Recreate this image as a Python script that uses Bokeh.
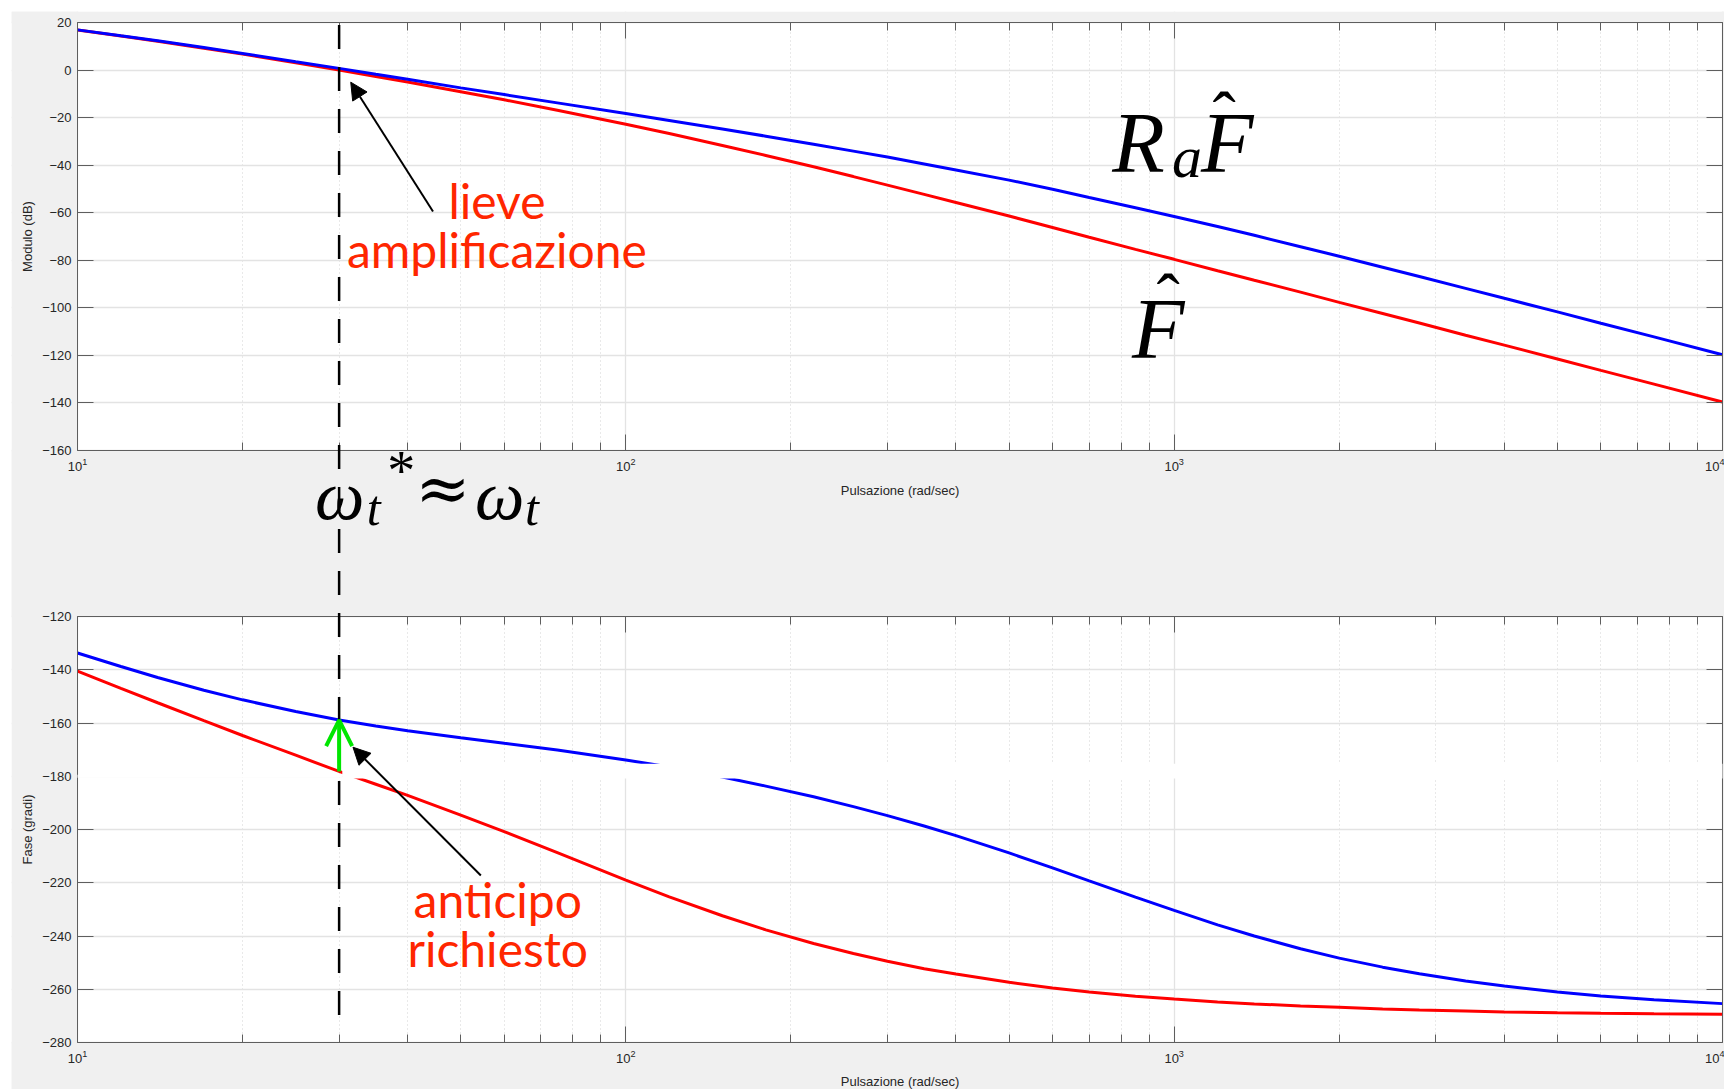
import math
from bokeh.plotting import figure
from bokeh.models import (LogAxis, LinearAxis, FixedTicker, Label, Arrow, Grid,
                          NormalHead, OpenHead, BoxAnnotation, Range1d)
from bokeh.layouts import column
from bokeh.embed import file_html
from bokeh.resources import INLINE

# ---------------- data ----------------
freq = [10, 12, 14, 17, 20, 25, 30, 35, 40, 50, 60, 75, 100, 120, 150, 180, 220,
        260, 300, 350, 400, 500, 600, 700, 850, 1000, 1200, 1400, 1700, 2000,
        2400, 2800, 3400, 4000, 5000, 6000, 7500, 10000]
mag_F = [16.8, 14.3, 12.1, 9.2, 6.7, 3.1, 0.0, -2.7, -5.0, -9.1, -12.5, -16.9,
         -22.8, -26.7, -31.7, -35.9, -40.7, -44.8, -48.4, -52.3, -55.7, -61.4,
         -66.2, -70.3, -75.4, -79.6, -84.4, -88.4, -93.4, -97.7, -102.4, -106.4,
         -111.5, -115.7, -121.5, -126.3, -132.1, -139.6]
mag_RaF = [16.9, 14.4, 12.3, 9.5, 7.0, 3.5, 0.7, -1.8, -3.9, -7.5, -10.3, -13.8,
           -18.3, -21.2, -24.8, -27.8, -31.2, -34.1, -36.6, -39.5, -42.0, -46.3,
           -50.1, -53.6, -57.9, -61.6, -65.8, -69.5, -74.3, -78.3, -82.9, -86.8,
           -91.8, -96.0, -101.7, -106.5, -112.2, -119.7]
phase_F = [-140.5, -147.0, -152.4, -159.1, -164.7, -172.1, -178.2, -183.0, -187.2,
           -194.6, -200.8, -208.7, -219.0, -225.3, -232.4, -237.7, -242.8, -246.6,
           -249.5, -252.3, -254.3, -257.4, -259.5, -261.0, -262.6, -263.7, -264.8,
           -265.5, -266.3, -266.8, -267.4, -267.8, -268.2, -268.5, -268.8, -269.0,
           -269.2, -269.4]
phase_RaF = [-133.7, -138.8, -142.9, -147.7, -151.3, -155.7, -158.9, -161.1, -162.9,
             -165.5, -167.6, -170.1, -173.9, -176.5, -180.3, -183.7, -187.7, -191.4,
             -194.8, -198.7, -202.3, -208.8, -214.4, -219.3, -225.4, -230.4, -235.8,
             -240.0, -244.8, -248.3, -251.7, -254.2, -256.9, -258.8, -261.0, -262.5,
             -263.9, -265.4]

x_ticks = [10, 100, 1000, 10000]
x_minor = [m * d for d in (10, 100, 1000) for m in range(2, 10)]
mag_ticks = list(range(-160, 21, 20))
phase_ticks = list(range(-280, -119, 20))
w_t = 30  # crossover frequency marked by the dashed line

# ---------------- layout (page pixels) ----------------
CX0, CY0, CW, CH = 11, 11, 1713, 1078          # canvas = plot frame
PX_L, PX_R = 77, 1722                          # both panels, x
MAG_T, MAG_B = 22, 450                         # magnitude panel, y
PH_T, PH_B = 616, 1042                         # phase panel, y
DEC = (PX_R - PX_L) / 3
MAG_PX = (MAG_B - MAG_T) / 180
PH_PX = (PH_B - PH_T) / 160
X_LOW = 10 ** (1 - (PX_L - CX0) / DEC)
X_HIGH = 10 ** (4 + (CX0 + CW - PX_R) / DEC)
MAG_TOP = 20 + (MAG_T - CY0) / MAG_PX
MAG_BOT = 20 - (CY0 + CH - MAG_T) / MAG_PX
PH_TOP = -120 + (PH_T - CY0) / PH_PX
PH_BOT = -280 - (CY0 + CH - PH_B) / PH_PX


def mag_at(ypx):
    return 20 - (ypx - MAG_T) / MAG_PX


def x_at(xpx):
    return 10 ** (1 + (xpx - PX_L) / DEC)


AX = "#5e5e5e"
TXT = "#262626"
GRID = "#e3e3e3"
MINOR = "#d2d2d2"
GAP = "#f0f0f0"
RED = "#ff0000"
BLUE = "#0000ff"
NOTE = "#ff2600"
GREEN = "#00e600"

p = figure(width=CW, height=CH, x_axis_type="log",
           x_axis_location=None, y_axis_location=None,
           x_range=Range1d(X_LOW, X_HIGH), y_range=Range1d(MAG_BOT, MAG_TOP),
           output_backend="svg", toolbar_location=None,
           min_border=0, min_border_left=0, min_border_right=0,
           min_border_top=0, min_border_bottom=0)
p.extra_y_ranges = {"phase": Range1d(PH_BOT, PH_TOP)}
p.background_fill_color = "white"
p.border_fill_color = GAP
p.outline_line_color = None
p.center = []

xt = FixedTicker(ticks=x_ticks, minor_ticks=x_minor)
mt = FixedTicker(ticks=mag_ticks, minor_ticks=[])
pt = FixedTicker(ticks=phase_ticks, minor_ticks=[])

p.add_layout(Grid(dimension=0, ticker=xt, grid_line_color=GRID, grid_line_width=1.3,
                  minor_grid_line_color=MINOR, minor_grid_line_dash="1 3",
                  minor_grid_line_width=1))
p.add_layout(Grid(dimension=1, ticker=mt, grid_line_color=GRID, grid_line_width=1.5))
p.add_layout(Grid(dimension=1, ticker=pt, y_range_name="phase",
                  grid_line_color=GRID, grid_line_width=1.5))

# grey surroundings of the two panels
for kw in (dict(right=10), dict(left=10000), dict(bottom=20),
           dict(top=-160, bottom=mag_at(PH_T)),
           dict(top=-280, y_range_name="phase")):
    p.add_layout(BoxAnnotation(level="underlay", fill_color=GAP, fill_alpha=1,
                               line_alpha=0, **kw))


def add_axis(cls, side, loc, bounds, ticker, yname="default", labels=True, minor=True):
    a = cls(ticker=ticker, fixed_location=loc, bounds=bounds, y_range_name=yname)
    a.axis_line_color = AX
    a.major_tick_line_color = AX
    a.minor_tick_line_color = AX if minor else None
    a.major_tick_in = 16
    a.major_tick_out = 0
    a.minor_tick_in = 8
    a.minor_tick_out = 0
    a.major_label_text_font = "Liberation Sans"
    a.major_label_text_font_size = "13px"
    a.major_label_text_color = TXT
    a.major_label_standoff = 7 if side == "below" else 6
    if not labels:
        a.major_label_overrides = {t: "" for t in ticker.ticks}
        a.major_label_text_font_size = "0px"
        a.major_label_standoff = 0
    p.add_layout(a, side)


XB = (10, 10000)
# magnitude panel box
add_axis(LogAxis, "below", -160, XB, xt)
add_axis(LogAxis, "above", 20, XB, xt, labels=False)
add_axis(LinearAxis, "left", 10, (-160, 20), mt, minor=False)
add_axis(LinearAxis, "right", 10000, (-160, 20), mt, labels=False, minor=False)
# phase panel box
add_axis(LogAxis, "below", -280, XB, xt, yname="phase")
add_axis(LogAxis, "above", -120, XB, xt, yname="phase", labels=False)
add_axis(LinearAxis, "left", 10, (-280, -120), pt, yname="phase", minor=False)
add_axis(LinearAxis, "right", 10000, (-280, -120), pt, yname="phase", labels=False, minor=False)

# curves
p.line(freq, mag_F, line_color=RED, line_width=3)
p.line(freq, mag_RaF, line_color=BLUE, line_width=3)
p.line(freq, phase_F, line_color=RED, line_width=3, y_range_name="phase")
p.line(freq, phase_RaF, line_color=BLUE, line_width=3, y_range_name="phase")


def sans(x, y, txt, angle=0.0, yname="default"):
    p.add_layout(Label(x=x, y=y, text=txt, angle=angle, y_range_name=yname,
                       text_font="Liberation Sans", text_font_size="13px",
                       text_color=TXT, text_align="center", text_baseline="middle"))


def serif(x, y, txt, size, style="italic", font="Liberation Serif", align="left"):
    p.add_layout(Label(x=x, y=y, text=txt, text_font=font, text_font_size=size,
                       text_font_style=style, text_color="black",
                       text_align=align, text_baseline="alphabetic"))


def note(x, y, txt, yname="default"):
    p.add_layout(Label(x=x, y=y, text=txt, y_range_name=yname, text_font="Lato",
                       text_font_size="48px", text_color=NOTE,
                       text_align="center", text_baseline="alphabetic"))


# axis titles
sans(316.2, mag_at(490), "Pulsazione (rad/sec)")
sans(316.2, -294.6, "Pulsazione (rad/sec)", yname="phase")
sans(x_at(27), -70.0, "Modulo (dB)", angle=math.pi / 2)
sans(x_at(27), -200.0, "Fase (gradi)", angle=math.pi / 2, yname="phase")

# white strip across the phase panel (as in the reference)
p.add_layout(BoxAnnotation(left=10, right=30.4, top=-179.4, bottom=-180.6,
                           y_range_name="phase", fill_color="white", fill_alpha=1,
                           line_alpha=0))
p.add_layout(BoxAnnotation(left=30.4, right=10000, top=-175.3, bottom=-180.8,
                           y_range_name="phase", fill_color="white", fill_alpha=1,
                           line_alpha=0))

# dashed vertical line through both panels
p.add_layout(Arrow(end=None, x_start=w_t, x_end=w_t, y_start=19, y_end=mag_at(1025),
                   line_color="black", line_width=2.5, line_dash="24 18"))

# required phase lead (green)
i_t = freq.index(w_t)
p.add_layout(Arrow(end=OpenHead(size=26, line_color=GREEN, line_width=4),
                   x_start=w_t, y_start=phase_F[i_t], x_end=w_t, y_end=phase_RaF[i_t],
                   y_range_name="phase", line_color=GREEN, line_width=4))

# annotation arrows
p.add_layout(Arrow(end=NormalHead(size=17, fill_color="black", line_color="black"),
                   x_start=44.5, y_start=-59.5, x_end=31.5, y_end=-5.1,
                   line_color="black", line_width=2))
p.add_layout(Arrow(end=NormalHead(size=17, fill_color="black", line_color="black"),
                   x_start=54.4, y_start=-217.3, x_end=31.8, y_end=-169.1,
                   y_range_name="phase", line_color="black", line_width=2))

note(58.2, -54.8, "lieve")
note(58.2, -75.4, "amplificazione")
note(58.4, -226.3, "anticipo", yname="phase")
note(58.4, -244.7, "richiesto", yname="phase")

# R_a F^
serif(771, -30.5, "R", "86px")
serif(991, -36.4, "a", "60px")
serif(1119, -30.5, "F", "86px")
serif(1233, -19.6, "ˆ", "70px", style="normal", align="center")
# F^
serif(838, -108.7, "F", "86px")
serif(975, -96.1, "ˆ", "70px", style="normal", align="center")

# omega_t* ~ omega_t (between the panels)
serif(27.1, -179.1, "ω", "70px")
serif(33.7, -184.2, "t", "50px")
serif(36.7, -168.5, "*", "56px", style="normal")
serif(41.3, -176.0, "≈", "66px", style="normal", font="DejaVu Serif")
serif(53.1, -179.1, "ω", "70px")
serif(65.5, -184.2, "t", "50px")

layout = column(p, margin=(CY0, 0, 0, CX0))
open("out.html", "w").write(file_html(layout, INLINE))
